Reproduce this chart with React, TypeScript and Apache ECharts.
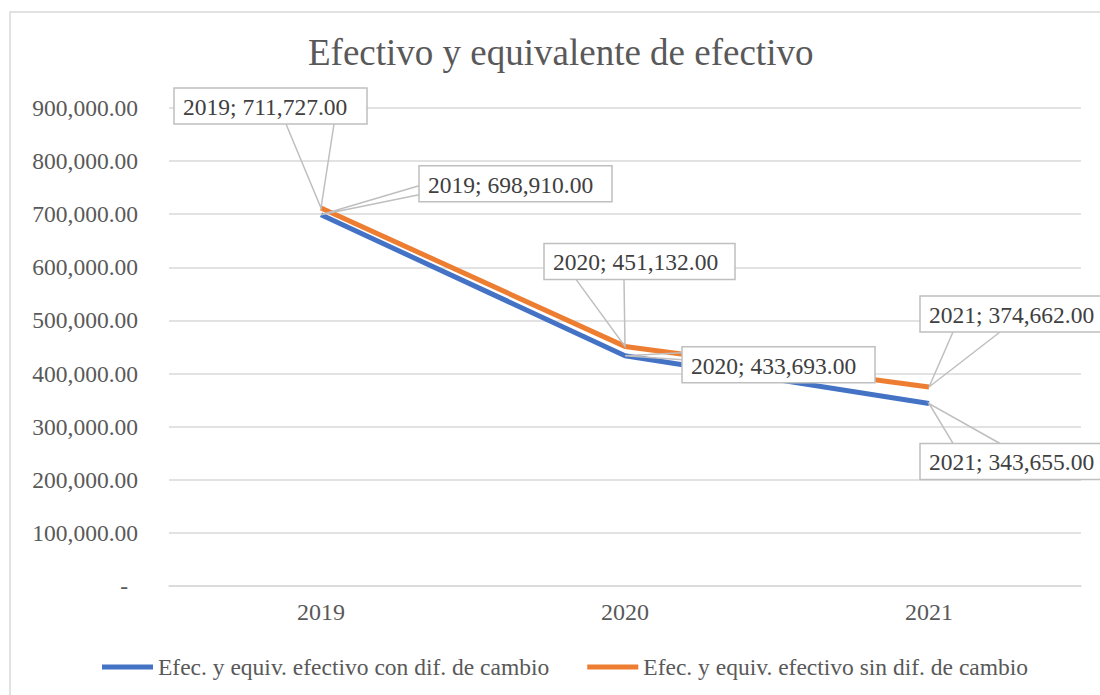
import React, { useEffect, useRef } from "react";
import * as echarts from "echarts";

const categories = ["2019", "2020", "2021"];
const seriesNames = [
  "Efec. y equiv. efectivo con dif. de cambio",
  "Efec. y equiv. efectivo sin dif. de cambio",
];
const conDif = [698910, 433693, 343655];
const sinDif = [711727, 451132, 374662];

const FONT = "'Liberation Serif', 'Times New Roman', serif";

const fmt = (v: number) =>
  v.toLocaleString("en-US", { minimumFractionDigits: 2, maximumFractionDigits: 2 });

// callout placement (style): box offset from point, wedge side & base offsets
type Callout = { series: number; idx: number; dx: number; dy: number; w: number; side: "bottom" | "left" | "top"; a: number; b: number };
const callouts: Callout[] = [
  { series: 1, idx: 0, dx: -147, dy: -120, w: 193, side: "bottom", a: 112, b: 160 },
  { series: 0, idx: 0, dx: 98, dy: -49, w: 193, side: "left", a: 20, b: 29 },
  { series: 1, idx: 1, dx: -81, dy: -103, w: 191, side: "bottom", a: 32, b: 80 },
  { series: 0, idx: 1, dx: 57, dy: -9, w: 193, side: "left", a: 6, b: 13 },
  { series: 1, idx: 2, dx: -9, dy: -91, w: 193, side: "bottom", a: 33, b: 80 },
  { series: 0, idx: 2, dx: -9, dy: 40, w: 193, side: "top", a: 33, b: 80 },
];
const BOX_H = 36;

export default function App() {
  const ref = useRef<HTMLDivElement>(null);
  useEffect(() => {
    if (!ref.current) return;
    const chart = echarts.init(ref.current, undefined, { renderer: "svg" });
    const option: any = {
      animation: false,
      backgroundColor: "#ffffff",
      title: {
        text: "Efectivo y equivalente de efectivo",
        left: 303,
        top: 29,
        textStyle: { fontFamily: FONT, fontSize: 37, fontWeight: "normal", color: "#595959" },
      },
      legend: {
        left: 97,
        top: 650,
        itemWidth: 51,
        itemHeight: 5,
        itemGap: 38,
        icon: "rect",
        textStyle: { fontFamily: FONT, fontSize: 23.5, color: "#595959" },
        data: seriesNames,
      },
      grid: { left: 169, right: 19, top: 108, bottom: 695 - 586 },
      xAxis: {
        type: "category",
        data: categories,
        boundaryGap: true,
        axisLine: { show: true, lineStyle: { color: "#d9d9d9", width: 1.5 } },
        axisTick: { show: false },
        axisLabel: { fontFamily: FONT, fontSize: 24, color: "#595959", margin: 14 },
      },
      yAxis: {
        type: "value",
        min: 0,
        max: 900000,
        interval: 100000,
        axisLine: { show: false },
        axisTick: { show: false },
        splitLine: { lineStyle: { color: "#d9d9d9", width: 1.5 } },
        axisLabel: {
          fontFamily: FONT,
          fontSize: 23.5,
          color: "#595959",
          margin: 31,
          formatter: (v: number) => (v === 0 ? "{z|-}" : fmt(v)),
          rich: { z: { fontFamily: FONT, fontSize: 23.5, color: "#595959", padding: [0, 10, 0, 0] } },
        },
      },
      series: [
        {
          name: seriesNames[0],
          type: "line",
          data: conDif,
          symbol: "none",
          lineStyle: { color: "#4472C4", width: 5 },
          itemStyle: { color: "#4472C4" },
          z: 2,
        },
        {
          name: seriesNames[1],
          type: "line",
          data: sinDif,
          symbol: "none",
          lineStyle: { color: "#ED7D31", width: 5 },
          itemStyle: { color: "#ED7D31" },
          z: 3,
        },
      ],
    };
    chart.setOption(option);

    const dataSets = [conDif, sinDif];
    const elements: any[] = [
      {
        type: "rect",
        shape: { x: 10, y: 12, width: 1200, height: 800 },
        style: { fill: "none", stroke: "#d9d9d9", lineWidth: 1.5 },
        silent: true,
        z: 0,
      },
    ];
    callouts.forEach((c) => {
      const val = dataSets[c.series][c.idx];
      const p = chart.convertToPixel({ seriesIndex: c.series }, [c.idx, val]) as number[];
      const bx = p[0] + c.dx;
      const by = p[1] + c.dy;
      let p1: number[], p2: number[];
      if (c.side === "bottom") {
        p1 = [bx + c.a, by + BOX_H];
        p2 = [bx + c.b, by + BOX_H];
      } else if (c.side === "top") {
        p1 = [bx + c.a, by];
        p2 = [bx + c.b, by];
      } else {
        p1 = [bx, by + c.a];
        p2 = [bx, by + c.b];
      }
      elements.push({
        type: "polyline",
        shape: { points: [p1, [p[0], p[1]], p2] },
        style: { stroke: "#bfbfbf", lineWidth: 1.5, fill: null },
        silent: true,
        z: 10,
      });
      elements.push({
        type: "rect",
        shape: { x: bx, y: by, width: c.w, height: BOX_H },
        style: { fill: "#ffffff", stroke: "#bfbfbf", lineWidth: 1.5 },
        silent: true,
        z: 11,
      });
      elements.push({
        type: "text",
        x: bx + 9,
        y: by + BOX_H / 2 + 1,
        style: {
          text: `${categories[c.idx]}; ${fmt(val)}`,
          fontFamily: FONT,
          fontSize: 23.5,
          fill: "#404040",
          align: "left",
          verticalAlign: "middle",
        },
        silent: true,
        z: 12,
      });
    });
    chart.setOption({ graphic: { elements } });

    return () => chart.dispose();
  }, []);
  return (
    <div
      ref={ref}
      style={{ position: "absolute", left: 0, top: 0, width: 1100, height: 695 }}
    />
  );
}
